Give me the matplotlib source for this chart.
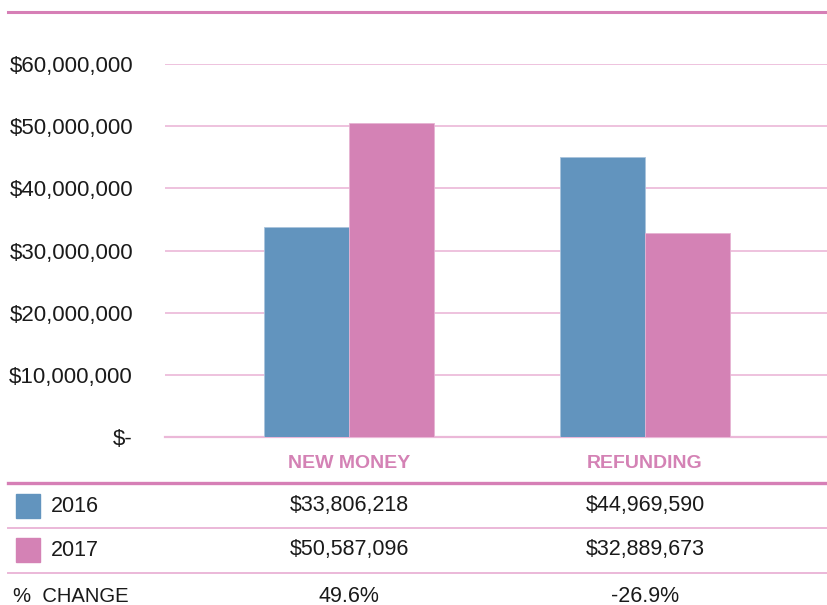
import numpy as np
import matplotlib.pyplot as plt

categories = ['NEW MONEY', 'REFUNDING']
years = ['2016', '2017']
values_2016 = [33806218, 44969590]
values_2017 = [50587096, 32889673]
pct_change = ['49.6%', '-26.9%']
yticks = [0, 10000000, 20000000, 30000000, 40000000, 50000000, 60000000]

blue = '#6294be'
pink = '#d482b5'
grid_pink = '#ebb8d8'
line_pink = '#d67fb6'


def fmt_money(v):
    return '$-' if v == 0 else f'${v:,.0f}'


def main():
    plt.rcParams['font.family'] = ['Liberation Sans', 'DejaVu Sans']
    W, H = 828, 605
    fig = plt.figure(figsize=(W / 100, H / 100), dpi=100)

    # chart axes: x 165..828, y 64..437 (pixels from top)
    ax = fig.add_axes([165 / W, 1 - 437 / H, (828 - 165) / W, (437 - 64) / H])
    x = np.arange(len(categories))
    bw = 0.287
    ax.bar(x - bw / 2, values_2016, bw, color=blue, edgecolor='#a9c4dc',
           linewidth=0.6, zorder=3)
    ax.bar(x + bw / 2, values_2017, bw, color=pink, edgecolor='#e6b3d3',
           linewidth=0.6, zorder=3)
    ax.set_xlim(-0.622, 1.618)
    ax.set_ylim(0, 60000000)
    ax.set_yticks(yticks)
    ax.set_yticklabels([fmt_money(v) for v in yticks], fontsize=16,
                       color='#1a1a1a')
    ax.yaxis.set_tick_params(length=0, pad=23)
    ax.set_xticks([])
    for s in ax.spines.values():
        s.set_visible(False)
    ax.grid(axis='y', color=grid_pink, linewidth=1.2, zorder=0)
    ax.set_axisbelow(True)
    ax.axhline(0, color=grid_pink, linewidth=1.6, zorder=2, clip_on=False)

    # category labels
    for xi, c in zip(x, categories):
        ax.text(xi, -0.07, c, transform=ax.get_xaxis_transform(),
                ha='center', va='center', fontsize=14, fontweight='bold',
                color=pink)

    # overlay axes in pixel coords for the frame and the table
    ov = fig.add_axes([0, 0, 1, 1], facecolor='none')
    ov.set_xlim(0, W)
    ov.set_ylim(H, 0)
    ov.axis('off')

    ov.plot([8, W], [12, 12], color=line_pink, linewidth=2.2)
    ov.plot([8, W], [483, 483], color=line_pink, linewidth=2.4)
    ov.plot([8, W], [528, 528], color=grid_pink, linewidth=1.4)
    ov.plot([8, W], [573, 573], color=grid_pink, linewidth=1.4)

    col_x = [349, 645]
    rows = [(506, years[0], blue, values_2016),
            (550, years[1], pink, values_2017)]
    for y, label, col, vals in rows:
        ov.add_patch(plt.Rectangle((16, y - 12), 24, 24, color=col))
        ov.text(51, y, label, ha='left', va='center', fontsize=15.5,
                color='#1a1a1a')
        for cx, v in zip(col_x, vals):
            ov.text(cx, y, fmt_money(v), ha='center', va='center',
                    fontsize=15.5, color='#1a1a1a')

    ov.text(13, 596, '%  CHANGE', ha='left', va='center', fontsize=14.6,
            color='#1a1a1a')
    for cx, p in zip(col_x, pct_change):
        ov.text(cx, 596, p, ha='center', va='center', fontsize=15.5,
                color='#1a1a1a')

    fig.savefig('out.png', dpi=100)


if __name__ == '__main__':
    main()
